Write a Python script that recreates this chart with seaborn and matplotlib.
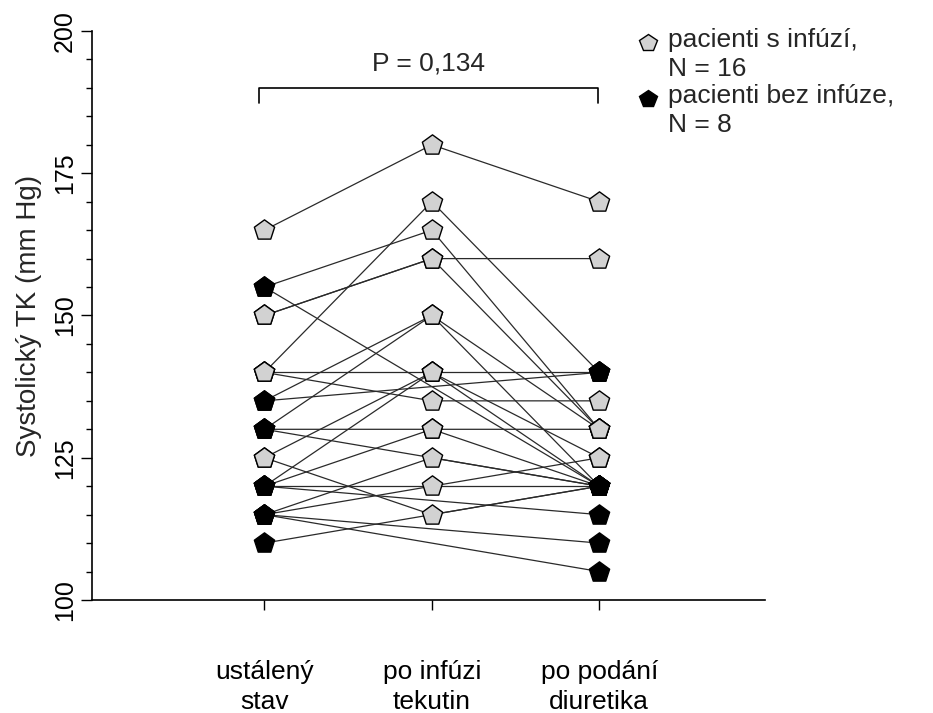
import numpy as np
import pandas as pd
import matplotlib
matplotlib.use("Agg")
import matplotlib.pyplot as plt
from matplotlib.lines import Line2D
import seaborn as sns

# Phases of the measurement
phases = ["ustálený\nstav", "po infúzi\ntekutin", "po podání\ndiuretika"]

# Patients with infusion (N = 16): steady state, after fluid infusion, after diuretic
infuze_ustaleny = [165, 140, 155, 150, 150, 135, 130, 140, 140, 125, 125, 130, 115, 115, 120, 120]
infuze_po_infuzi = [180, 170, 165, 160, 160, 150, 150, 140, 135, 140, 115, 130, 125, 120, 130, 140]
infuze_diuretikum = [170, 140, 130, 160, 130, 130, 120, 140, 135, 125, 120, 120, 120, 125, 130, 120]

# Patients without infusion (N = 8): steady state, after diuretic
bez_ustaleny = [155, 135, 130, 120, 120, 115, 115, 110]
bez_diuretikum = [120, 140, 120, 115, 120, 110, 105, 120]

legend_labels = ["pacienti s infúzí,\nN = 16", "pacienti bez infúze,\nN = 8"]
p_value_text = "P = 0,134"
y_label = "Systolický TK (mm Hg)"
y_ticks = [100, 125, 150, 175, 200]

# Long-form table
rows = []
for i, vals in enumerate(zip(infuze_ustaleny, infuze_po_infuzi, infuze_diuretikum)):
    for k, v in enumerate(vals):
        rows.append(dict(patient=f"s{i}", group="s", phase=phases[k], value=v))
for i, (a, b) in enumerate(zip(bez_ustaleny, bez_diuretikum)):
    rows.append(dict(patient=f"b{i}", group="b", phase=phases[0], value=a))
    rows.append(dict(patient=f"b{i}", group="b", phase=phases[2], value=b))
df = pd.DataFrame(rows)
df["pos"] = df["phase"].map({p: i for i, p in enumerate(phases)})

sns.set_theme(style="ticks")
plt.rcParams["font.family"] = ["Liberation Sans", "DejaVu Sans"]

fig = plt.figure(figsize=(9.33, 7.13), dpi=100)
ax = fig.add_axes([92 / 933, 113 / 713, 673 / 933, 569 / 713])

line_col = "#2a2a2a"
sns.lineplot(data=df, x="pos", y="value", units="patient", estimator=None,
             color=line_col, lw=0.9, legend=False, ax=ax, zorder=1)

gray_fill = "#d2d2d2"
sns.scatterplot(data=df[df.group == "s"], x="pos", y="value", marker="p", s=235,
                color=gray_fill, edgecolor="black", linewidth=1.0, ax=ax, zorder=3,
                legend=False)
sns.scatterplot(data=df[df.group == "b"], x="pos", y="value", marker="p", s=235,
                color="black", edgecolor="black", linewidth=1.0, ax=ax, zorder=4,
                legend=False)

ax.set_xlim(-1.03, 2.99)
ax.set_ylim(100, 200)
ax.set_xticks(range(len(phases)))
ax.set_xticklabels(phases, fontsize=19, linespacing=1.35)
ax.set_yticks(y_ticks)
ax.set_yticks(np.arange(100, 201, 5), minor=True)
ax.set_yticklabels([str(t) for t in y_ticks], fontsize=18, rotation=90, va="center")
ax.set_xlabel("")
ax.set_ylabel(y_label, fontsize=20, labelpad=8)

for s in ["top", "right"]:
    ax.spines[s].set_visible(False)
for s in ["left", "bottom"]:
    ax.spines[s].set_linewidth(1.2)
    ax.spines[s].set_color("black")
ax.tick_params(axis="x", length=7, width=1, pad=36, colors="black")
ax.tick_params(axis="y", which="major", length=8, width=1, pad=3, colors="black")
ax.tick_params(axis="y", which="minor", length=4, width=1, colors="black")
ax.set_facecolor("white")

# Comparison bracket between steady state and after diuretic
ax.plot([-0.03, -0.03, 1.99, 1.99], [187.3, 190.0, 190.0, 187.3], color="black",
        lw=1.2, clip_on=False)
ax.text(0.98, 194.3, p_value_text, ha="center", va="center", fontsize=19)

# Legend drawn in figure coordinates
for (label, fc, ym) in [(legend_labels[0], gray_fill, 43), (legend_labels[1], "black", 99)]:
    fig.add_artist(Line2D([648 / 933], [1 - ym / 713], marker="p", markersize=13,
                          markerfacecolor=fc, markeredgecolor="black",
                          markeredgewidth=1.0, linestyle="none",
                          transform=fig.transFigure))
    fig.text(668 / 933, 1 - (ym - 15) / 713, label, fontsize=19, va="top", ha="left",
             linespacing=1.25)

fig.savefig("out.png", dpi=100, facecolor="white")
